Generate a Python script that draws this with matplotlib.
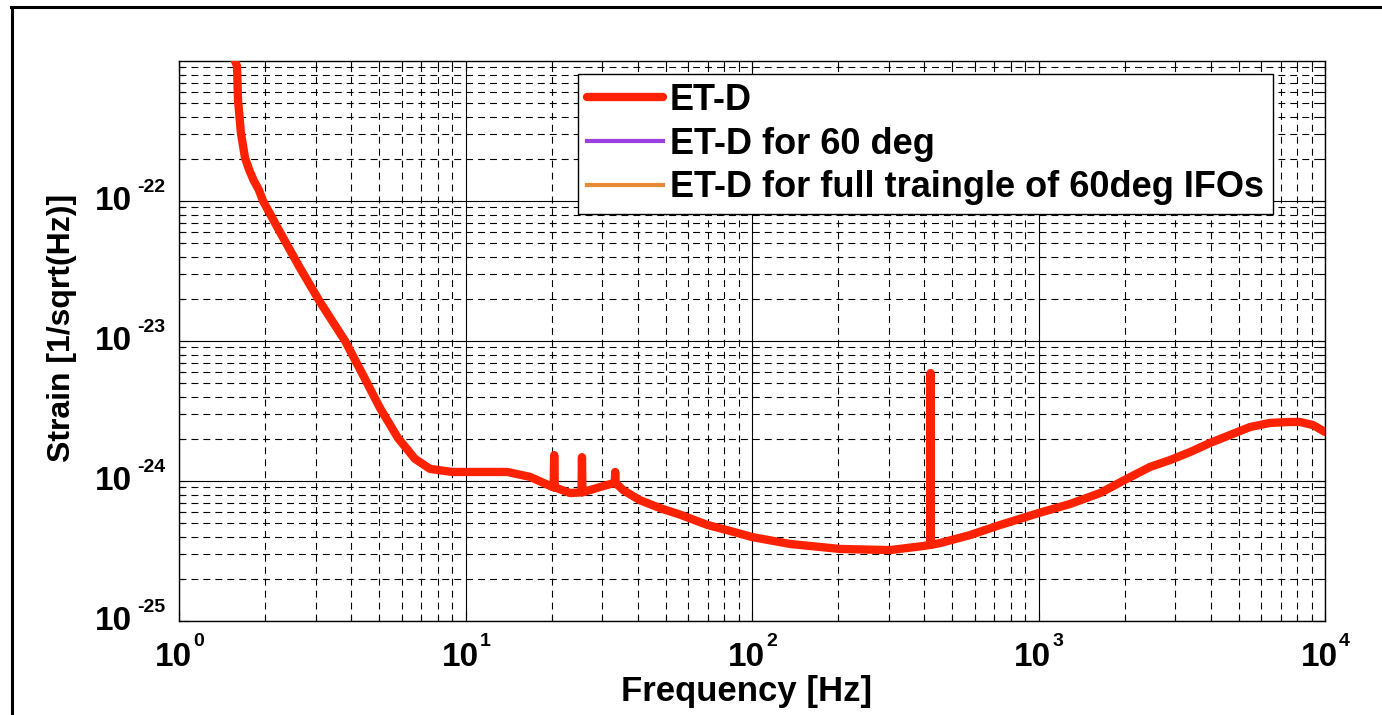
import matplotlib
matplotlib.use("Agg")
import matplotlib.pyplot as plt
from matplotlib.lines import Line2D

plt.rcParams['font.family'] = ['Liberation Sans', 'DejaVu Sans']
plt.rcParams['font.weight'] = 'bold'
plt.rcParams['lines.scale_dashes'] = False

# ET-D design sensitivity (amplitude spectral density)
freq_hz = [1.55, 1.568, 1.594, 1.607, 1.645, 1.70, 1.76, 1.82, 1.90, 1.965,
           2.25, 2.645, 3.105, 3.80, 4.35, 5.03, 5.81, 6.66, 7.52, 9.0, 14.0, 16.8,
           18.5, 20.0, 20.3, 20.4, 20.5, 23.2, 25.4, 25.5, 25.6, 29.5, 32.0,
           33.2, 33.3, 33.4, 35.5, 40.6, 47.7, 56.1, 70.0, 83.8, 100.0, 135.7,
           203.0, 303.0, 395.0, 419.0, 420.0, 421.0, 453.0, 577.0, 734.0, 1000.0,
           1288.0, 1640.0, 2004.0, 2449.0, 2877.0, 3380.0, 3970.0, 4660.0, 5475.0,
           6430.0, 7550.0, 8180.0, 9080.0, 10000.0]
strain_etd = [1.6e-21, 1.0e-21, 9.2e-22, 5.26e-22, 3.06e-22, 2.03e-22, 1.66e-22, 1.41e-22,
              1.2e-22, 1.0e-22, 6.01e-23, 3.32e-23, 1.9e-23, 1.0e-23, 5.91e-24,
              3.32e-24, 2.03e-24, 1.44e-24, 1.22e-24, 1.16e-24, 1.16e-24, 1.07e-24,
              0.98e-24, 9.1e-25, 9.0e-25, 1.53e-24, 9.0e-25, 8.2e-25, 8.3e-25,
              1.48e-24, 8.3e-25, 9.06e-25, 9.5e-25, 9.7e-25, 1.16e-24, 9.7e-25,
              8.6e-25, 7.3e-25, 6.41e-25, 5.75e-25, 4.85e-25, 4.4e-25, 3.98e-25,
              3.55e-25, 3.27e-25, 3.21e-25, 3.43e-25, 3.5e-25, 5.9e-24, 3.5e-25,
              3.6e-25, 4.11e-25, 4.85e-25, 5.9e-25, 6.85e-25, 8.2e-25, 1.02e-24,
              1.26e-24, 1.41e-24, 1.61e-24, 1.87e-24, 2.13e-24, 2.43e-24, 2.6e-24,
              2.64e-24, 2.64e-24, 2.51e-24, 2.24e-24]

series_labels = ['ET-D', 'ET-D for 60 deg', 'ET-D for full traingle of 60deg IFOs']
series_colors = ['#ff2200', '#9b3fe0', '#e88a35']

x_tick_exponents = [0, 1, 2, 3, 4]
y_tick_exponents = [-25, -24, -23, -22]

W, H = 1382, 715
fig = plt.figure(figsize=(W / 100, H / 100), dpi=100)
ax = fig.add_axes([179 / W, 1 - 621 / H, (1325 - 179) / W, (621 - 61) / H])

ax.set_xscale('log')
ax.set_yscale('log')
ax.set_xlim(1, 1e4)
ax.set_ylim(1e-25, 1e-21)

# the two 60-degree variants appear in the legend only
ax.plot([], [], color=series_colors[1], lw=3.0, label=series_labels[1])
ax.plot([], [], color=series_colors[2], lw=3.0, label=series_labels[2])
ax.plot(freq_hz, strain_etd, color=series_colors[0], lw=6.0,
        solid_joinstyle='round', solid_capstyle='round', label=series_labels[0], zorder=5)

ax.grid(True, which='major', color='black', lw=0.8, ls='-')
ax.grid(True, which='minor', color='black', lw=0.8, ls=(0, (5, 3.6)))
ax.set_axisbelow(True)

ax.tick_params(which='both', direction='in', top=True, right=True,
               labelbottom=False, labelleft=False)
ax.tick_params(which='major', length=7, width=0.8)
ax.tick_params(which='minor', length=3.6, width=0.8)
ax.set_xticks([10.0 ** e for e in x_tick_exponents])
ax.set_yticks([10.0 ** e for e in y_tick_exponents])
for sp in ax.spines.values():
    sp.set_linewidth(1.0)

# power-of-ten tick labels with small raised exponents
for e in x_tick_exponents:
    xv = 10.0 ** e
    ax.annotate('10', xy=(xv, 0), xycoords=('data', 'axes fraction'),
                xytext=(13, -36), textcoords='offset pixels',
                ha='right', va='center', fontsize=24, fontweight='bold')
    ax.annotate(str(e), xy=(xv, 0), xycoords=('data', 'axes fraction'),
                xytext=(14, -25), textcoords='offset pixels',
                ha='left', va='baseline', fontsize=14, fontweight='bold')
for e in y_tick_exponents:
    yv = 10.0 ** e
    ax.annotate('10', xy=(0, yv), xycoords=('axes fraction', 'data'),
                xytext=(-47, 0), textcoords='offset pixels',
                ha='right', va='center', fontsize=24, fontweight='bold')
    ax.annotate(str(e), xy=(0, yv), xycoords=('axes fraction', 'data'),
                xytext=(-42, 9), textcoords='offset pixels',
                ha='left', va='baseline', fontsize=14, fontweight='bold')

fig.text(747 / W, 1 - 692 / H, 'Frequency [Hz]', ha='center', va='center',
         fontsize=25, fontweight='bold')
fig.text(62 / W, 1 - 328 / H, 'Strain [1/sqrt(Hz)]', ha='center', va='center',
         rotation=90, fontsize=23, fontweight='bold')

handles, labels = ax.get_legend_handles_labels()
order = [2, 0, 1]
leg = ax.legend([handles[i] for i in order], [labels[i] for i in order],
                loc='upper left', bbox_to_anchor=((578 - 179) / 1146, (621 - 74) / 560),
                borderaxespad=0, fancybox=False, framealpha=1, edgecolor='black',
                handlelength=2.1, handletextpad=0.2, labelspacing=0.24,
                borderpad=0.25, prop={'weight': 'bold', 'size': 26})
leg.get_frame().set_linewidth(1.0)
leg.set_zorder(10)

# outer frame of the figure window
fig.add_artist(Line2D([11 / W, 1.0], [1 - 7 / H, 1 - 7 / H], color='black', lw=2.2,
                      transform=fig.transFigure))
fig.add_artist(Line2D([12 / W, 12 / W], [0.0, 1 - 7 / H], color='black', lw=2.2,
                      transform=fig.transFigure))

fig.savefig('out.png', dpi=100)
